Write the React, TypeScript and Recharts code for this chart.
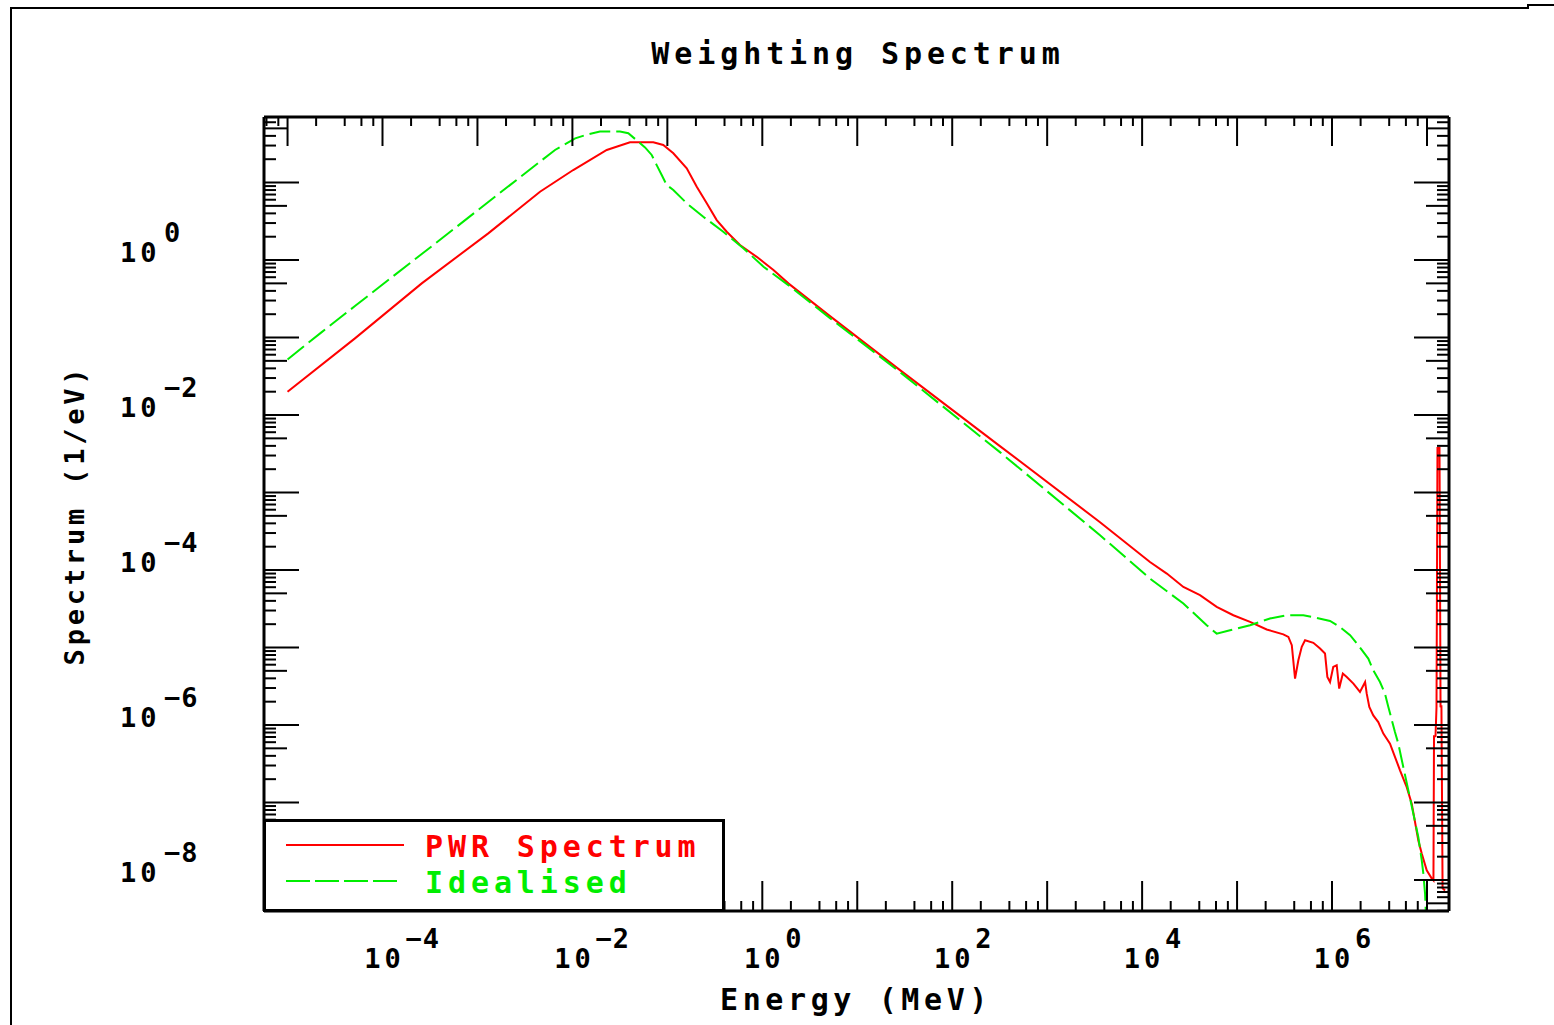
import React from 'react';
import { LineChart, Line, XAxis, YAxis, Legend } from 'recharts';

// ---------- data ----------
const pwrEnergy = [
  1.0e-5, 5.13e-5, 2.59e-4, 1.30e-3, 4.56e-3, 1.02e-2, 2.30e-2, 4.04e-2, 7.11e-2, 9.06e-2,
  0.1156, 0.160, 0.204, 0.260, 0.331, 0.422, 0.582, 0.873, 1.31, 1.88,
  5.16, 28.2, 318, 3605, 1.21e4, 1.82e4, 2.72e4, 4.07e4, 6.10e4, 9.14e4,
  1.37e5, 2.05e5, 3.07e5, 3.47e5, 3.77e5, 4.08e5, 4.42e5, 4.80e5, 5.20e5, 6.36e5,
  7.48e5, 8.44e5, 8.93e5, 9.53e5, 1.03e6, 1.12e6, 1.19e6, 1.30e6, 1.43e6, 1.68e6,
  1.97e6, 2.23e6, 2.32e6, 2.47e6, 2.72e6, 3.07e6, 3.47e6, 4.08e6, 4.61e6, 5.20e6,
  6.12e6, 6.91e6, 8.11e6, 8.81e6, 9.94e6, 1.12e7, 1.17e7, 1.186e7, 1.23e7, 1.26e7,
  1.29e7, 1.355e7, 1.39e7, 1.42e7, 1.46e7, 1.55e7,
];
const pwrFlux = [
  2.0e-2, 9.75e-2, 0.50, 2.21, 7.62, 14.5, 26.3, 33.1, 33.1, 30.5,
  23.9, 15.3, 8.84, 5.40, 3.28, 2.32, 1.56, 1.10, 0.743, 0.50,
  0.189, 0.0380, 3.97e-3, 4.14e-4, 1.27e-4, 9.0e-5, 6.05e-5, 4.73e-5, 3.34e-5, 2.61e-5,
  2.14e-5, 1.71e-5, 1.48e-5, 1.37e-5, 1.07e-5, 3.97e-6, 6.84e-6, 1.02e-5, 1.24e-5, 1.15e-5,
  9.69e-6, 8.35e-6, 4.17e-6, 3.59e-6, 5.61e-6, 5.90e-6, 2.95e-6, 4.61e-6, 4.17e-6, 3.42e-6,
  2.67e-6, 3.59e-6, 2.54e-6, 1.71e-6, 1.33e-6, 1.09e-6, 7.74e-7, 5.75e-7, 3.86e-7, 2.60e-7,
  1.58e-7, 9.66e-8, 3.24e-8, 2.19e-8, 1.33e-8, 1.05e-8, 9.9e-9, 7.15e-7, 7.15e-7, 1.69e-6,
  3.74e-3, 3.74e-3, 1.69e-6, 1.80e-6, 7.8e-9, 7.3e-9,
];
const idealEnergy = [
  1.0e-5, 2.29e-5, 5.13e-5, 1.15e-4, 2.59e-4, 5.81e-4, 1.30e-3, 2.92e-3, 6.56e-3, 1.07e-2,
  1.47e-2, 1.95e-2, 3.17e-2, 3.88e-2, 4.94e-2, 5.82e-2, 6.84e-2, 7.72e-2, 8.72e-2, 9.84e-2,
  0.1156, 0.160, 0.239, 0.388, 0.631, 1.03, 1.88, 5.16, 28.2, 318,
  3605, 1.21e4, 1.67e4, 2.72e4, 4.79e4, 6.10e4, 8.43e4, 1.37e5, 2.22e5, 3.33e5,
  4.99e5, 6.90e5, 9.53e5, 1.21e6, 1.55e6, 1.89e6, 2.41e6, 2.72e6, 3.20e6, 3.61e6,
  3.92e6, 4.60e6, 4.99e6, 5.63e6, 6.36e6, 7.18e6, 8.11e6, 8.81e6, 9.16e6, 9.55e6,
  9.89e6,
];
const idealFlux = [
  5.22e-2, 0.1175, 0.2547, 0.552, 1.195, 2.588, 5.61, 12.15, 26.3, 37.2,
  42.0, 45.6, 45.6, 43.3, 33.7, 28.4, 22.7, 16.8, 12.5, 9.29,
  8.01, 5.40, 3.62, 2.32, 1.42, 0.819, 0.475, 0.178, 0.0358, 3.32e-3,
  2.81e-4, 7.76e-5, 5.77e-5, 3.69e-5, 1.94e-5, 1.51e-5, 1.67e-5, 1.94e-5, 2.37e-5, 2.61e-5,
  2.61e-5, 2.41e-5, 2.20e-5, 1.84e-5, 1.44e-5, 1.07e-5, 7.20e-6, 5.08e-6, 3.59e-6, 2.54e-6,
  1.71e-6, 8.12e-7, 5.75e-7, 2.87e-7, 1.44e-7, 7.18e-8, 3.58e-8, 1.79e-8, 1.21e-8, 6.65e-9,
  2.23e-9,
];

const seriesNames = ['PWR Spectrum', 'Idealised'];
const xDomain = [5.65e-6, 1.706e7];
const yDomain = [3.98e-9, 70.1];
const xLabelExponents = [-4, -2, 0, 2, 4, 6];
const yLabelExponents = [0, -2, -4, -6, -8];
const xMinorMultipliers = [2, 4, 6, 8];
const yMinorMultipliers = [2, 3, 4, 5, 6, 7, 8, 9];

// ---------- derived ----------
const buildTicks = (domain: number[], minors: number[]) => {
  const out: number[] = [];
  const lo = Math.floor(Math.log10(domain[0])) - 1;
  const hi = Math.ceil(Math.log10(domain[1])) + 1;
  for (let k = lo; k <= hi; k++) {
    for (const m of [1, ...minors]) {
      const v = m * Math.pow(10, k);
      if (v >= domain[0] && v <= domain[1]) out.push(v);
    }
  }
  return out;
};
const xTicks = buildTicks(xDomain, xMinorMultipliers);
const yTicks = buildTicks(yDomain, yMinorMultipliers);

const pwrData = pwrEnergy.map((e, i) => ({ e, s: pwrFlux[i] }));
const idealData = idealEnergy.map((e, i) => ({ e, s: idealFlux[i] }));

const FONT = '"DejaVu Sans Mono", "Liberation Mono", monospace';
const RED = '#ff0000';
const GREEN = '#00ee00';

const info = (v: number) => {
  const l = Math.log10(v);
  const e = Math.floor(l + 1e-9);
  const m = Math.round(v / Math.pow(10, e));
  return { e, m, decade: m === 1 };
};
const fmtExp = (e: number) => (e < 0 ? '\u2212' + String(-e) : String(e));

const BottomTick = (props: any) => {
  const { x, y, payload } = props;
  const { e, decade } = info(payload.value);
  return (
    <g>
      <line x1={x} x2={x} y1={y} y2={y - (decade ? 30 : 10)} stroke="#000" strokeWidth={2} />
      {decade && xLabelExponents.includes(e) && (
        <g fontFamily={FONT} fontWeight="bold" fill="#000">
          <text x={x + 2} y={y + 57} textAnchor="middle" fontSize={27} letterSpacing={4}>10</text>
          <text x={x + 23} y={y + 37} fontSize={27} letterSpacing={1}>{fmtExp(e)}</text>
        </g>
      )}
    </g>
  );
};

const TopTick = (props: any) => {
  const { x, y, payload } = props;
  const { decade } = info(payload.value);
  return <line x1={x} x2={x} y1={y} y2={y + (decade ? 29 : 9)} stroke="#000" strokeWidth={2} />;
};

const yLen = (m: number, decade: boolean) => (decade ? 35 : m === 5 ? 23 : 12);

const LeftTick = (props: any) => {
  const { x, y, payload } = props;
  const { e, m, decade } = info(payload.value);
  return (
    <g>
      <line x1={x} x2={x + yLen(m, decade)} y1={y} y2={y} stroke="#000" strokeWidth={2} />
      {decade && yLabelExponents.includes(e) && (
        <g fontFamily={FONT} fontWeight="bold" fill="#000">
          <text x={x - 144} y={y + 2} fontSize={27} letterSpacing={4}>10</text>
          <text x={x - 100} y={y - 18} fontSize={27} letterSpacing={1}>{fmtExp(e)}</text>
        </g>
      )}
    </g>
  );
};

const RightTick = (props: any) => {
  const { x, y, payload } = props;
  const { m, decade } = info(payload.value);
  return <line x1={x} x2={x - yLen(m, decade)} y1={y} y2={y} stroke="#000" strokeWidth={2} />;
};

const renderLegend = (props: any) => {
  const raw = (props && props.payload) || [];
  const items = [...raw].sort(
    (a: any, b: any) => seriesNames.indexOf(a.value) - seriesNames.indexOf(b.value)
  );
  return (
    <svg width={462} height={93} style={{ display: 'block' }}>
      <rect x={1.5} y={1.5} width={459} height={90} fill="#fff" stroke="#000" strokeWidth={3} />
      {items.map((it: any, i: number) => {
        const dashed = it.payload && it.payload.strokeDasharray;
        return (
          <g key={i}>
            <line
              x1={23}
              x2={dashed ? 134 : 141}
              y1={26 + 36 * i}
              y2={26 + 36 * i}
              stroke={it.color}
              strokeWidth={2}
              strokeDasharray={dashed ? '24 5' : undefined}
            />
            <text
              x={162}
              y={38 + 36 * i}
              fill={it.color}
              fontFamily={FONT}
              fontWeight="bold"
              fontSize={30}
              letterSpacing={4.9}
            >
              {it.value}
            </text>
          </g>
        );
      })}
    </svg>
  );
};

const W = 1554;
const H = 1025;

export default function App() {
  return (
    <div style={{ position: 'absolute', left: 0, top: 0, width: W, height: H, background: '#fff' }}>
      <svg width={W} height={H} style={{ position: 'absolute', left: 0, top: 0 }}>
        <polyline points="11,1025 11,8 1528,8 1528,5 1554,5" fill="none" stroke="#000" strokeWidth={2} />
        <text
          x={858}
          y={64}
          textAnchor="middle"
          fontFamily={FONT}
          fontWeight="bold"
          fontSize={30}
          letterSpacing={4.9}
          fill="#000"
        >
          Weighting Spectrum
        </text>
      </svg>
      <div style={{ position: 'absolute', left: 0, top: 0 }}>
        <LineChart width={W} height={H} margin={{ top: 107, right: 95, bottom: 0, left: 0 }}>
          <XAxis
            dataKey="e"
            type="number"
            scale="log"
            domain={xDomain}
            allowDataOverflow
            ticks={xTicks}
            interval={0}
            tickSize={0}
            tickMargin={0}
            tickLine={false}
            tick={BottomTick}
            height={114}
            axisLine={{ stroke: '#000', strokeWidth: 3 }}
            label={() => (
              <text
                x={856}
                y={1010}
                textAnchor="middle"
                fontFamily={FONT}
                fontWeight="bold"
                fontSize={30}
                letterSpacing={4.6}
                fill="#000"
              >
                Energy (MeV)
              </text>
            )}
          />
          <XAxis
            xAxisId="top"
            orientation="top"
            dataKey="e"
            type="number"
            scale="log"
            domain={xDomain}
            allowDataOverflow
            ticks={xTicks}
            interval={0}
            tickSize={0}
            tickMargin={0}
            tickLine={false}
            tick={TopTick}
            height={10}
            axisLine={{ stroke: '#000', strokeWidth: 3 }}
          />
          <YAxis
            dataKey="s"
            type="number"
            scale="log"
            domain={yDomain}
            allowDataOverflow
            ticks={yTicks}
            interval={0}
            tickSize={0}
            tickMargin={0}
            tickLine={false}
            tick={LeftTick}
            width={264}
            axisLine={{ stroke: '#000', strokeWidth: 3 }}
            label={() => (
              <text
                x={84}
                y={515}
                transform="rotate(-90 84 515)"
                textAnchor="middle"
                fontFamily={FONT}
                fontWeight="bold"
                fontSize={27}
                letterSpacing={3.8}
                fill="#000"
              >
                Spectrum (1/eV)
              </text>
            )}
          />
          <YAxis
            yAxisId="right"
            orientation="right"
            dataKey="s"
            type="number"
            scale="log"
            domain={yDomain}
            allowDataOverflow
            ticks={yTicks}
            interval={0}
            tickSize={0}
            tickMargin={0}
            tickLine={false}
            tick={RightTick}
            width={10}
            axisLine={{ stroke: '#000', strokeWidth: 3 }}
          />
          <Line
            data={pwrData}
            dataKey="s"
            name={seriesNames[0]}
            stroke={RED}
            strokeWidth={2}
            dot={false}
            activeDot={false}
            type="linear"
            isAnimationActive={false}
          />
          <Line
            data={idealData}
            dataKey="s"
            name={seriesNames[1]}
            stroke={GREEN}
            strokeWidth={2}
            strokeDasharray="21 6"
            dot={false}
            activeDot={false}
            type="linear"
            isAnimationActive={false}
          />
          <Legend
            layout="horizontal"
            verticalAlign="middle"
            align="center"
            content={renderLegend}
            wrapperStyle={{ left: 263, top: 819, right: 'auto', bottom: 'auto', width: 462, height: 93 }}
          />
        </LineChart>
      </div>
    </div>
  );
}
